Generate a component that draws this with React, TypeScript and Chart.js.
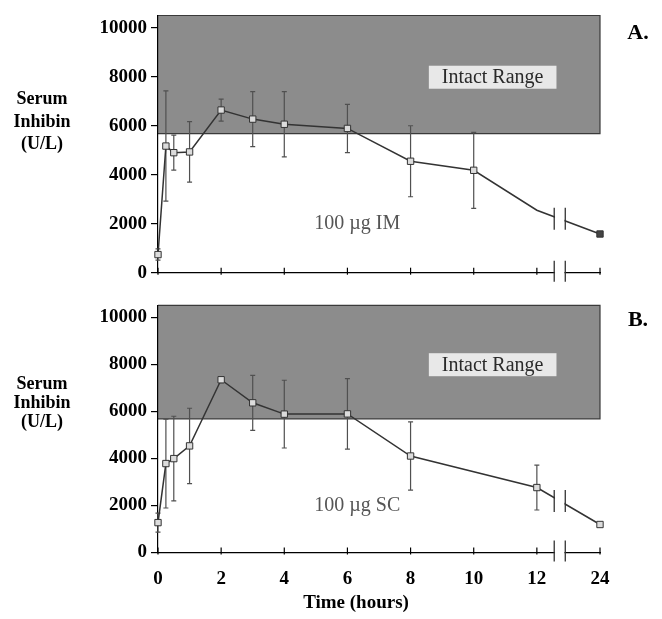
import React, { useEffect, useRef } from "react";
import { Chart, registerables } from "chart.js";
Chart.register(...registerables);

// ---- data (hours, U/L) ----
const timesA = [0, 0.25, 0.5, 1, 2, 3, 4, 6, 8, 10, 12, 24];
const meansA = [740, 5170, 4900, 4930, 6640, 6270, 6060, 5890, 4550, 4180, 2550, 1580];
const errorsA = [230, 2250, 715, 1235, 450, 1125, 1330, 985, 1450, 1550, 0, 0];
const unmarkedTimesA = [12];
const darkMarkerTimesA = [24];

const timesB = [0, 0.25, 0.5, 1, 2, 3, 4, 6, 8, 12, 24];
const meansB = [1270, 3780, 3990, 4530, 7340, 6360, 5880, 5890, 4100, 2760, 1190];
const errorsB = [400, 1890, 1800, 1600, 120, 1170, 1440, 1500, 1450, 955, 0];
const unmarkedTimesB: number[] = [];
const darkMarkerTimesB: number[] = [];

const xTickHours = [0, 2, 4, 6, 8, 10, 12, 24];
const yTickValues = [0, 2000, 4000, 6000, 8000, 10000];
const intactRange = [5680, 10500];
const intactLabel = "Intact Range";
const doseLabelA = "100 µg IM";
const doseLabelB = "100 µg SC";
const yTitleLines = ["Serum", "Inhibin", "(U/L)"];
const xTitle = "Time (hours)";

// broken time axis: hours after the break are drawn at position 14
const AXIS_MAX = 14;
const BREAK_START = 12.55;
const BREAK_END = 12.9;
const toAxis = (h: number) => (h > 12 ? AXIS_MAX : h);

const SERIF = "'Liberation Serif', 'Times New Roman', serif";

const panelPlugin = {
  id: "panel",
  beforeDraw(chart: any, _a: any, o: any) {
    const { ctx } = chart;
    const xs = chart.scales.x;
    const ys = chart.scales.y;
    const l = xs.getPixelForValue(0);
    const r = xs.getPixelForValue(AXIS_MAX);
    const t = ys.getPixelForValue(intactRange[1]);
    const b = ys.getPixelForValue(intactRange[0]);
    ctx.save();
    ctx.fillStyle = "#8c8c8c";
    ctx.fillRect(l, t, r - l, b - t);
    ctx.strokeStyle = "#3a3a3a";
    ctx.lineWidth = 1.2;
    ctx.beginPath();
    ctx.moveTo(l, t);
    ctx.lineTo(r, t);
    ctx.lineTo(r, b);
    ctx.lineTo(l, b);
    ctx.stroke();
    // Intact Range label box
    ctx.font = `20px ${SERIF}`;
    const cx = xs.getPixelForValue(10.6);
    const cy = ys.getPixelForValue(7980);
    const w = ctx.measureText(intactLabel).width + 26;
    ctx.fillStyle = "#e8e8e8";
    ctx.fillRect(cx - w / 2, cy - 11.5, w, 23);
    ctx.fillStyle = "#2a2a2a";
    ctx.textAlign = "center";
    ctx.textBaseline = "middle";
    ctx.fillText(intactLabel, cx, cy + 1);
    // dose label
    ctx.font = `20px ${SERIF}`;
    ctx.fillStyle = "#555";
    ctx.textAlign = "left";
    ctx.fillText(o.dose, xs.getPixelForValue(4.95), ys.getPixelForValue(2000));
    ctx.restore();
  },
  beforeDatasetsDraw(chart: any, _a: any, o: any) {
    const { ctx } = chart;
    const xs = chart.scales.x;
    const ys = chart.scales.y;
    ctx.save();
    ctx.strokeStyle = "#505050";
    ctx.lineWidth = 1.2;
    o.times.forEach((h: number, i: number) => {
      const e = o.errors[i];
      if (!e) return;
      const x = xs.getPixelForValue(toAxis(h));
      const y1 = ys.getPixelForValue(o.means[i] + e);
      const y2 = ys.getPixelForValue(o.means[i] - e);
      ctx.beginPath();
      ctx.moveTo(x, y1);
      ctx.lineTo(x, y2);
      ctx.moveTo(x - 2.5, y1);
      ctx.lineTo(x + 2.5, y1);
      ctx.moveTo(x - 2.5, y2);
      ctx.lineTo(x + 2.5, y2);
      ctx.stroke();
    });
    ctx.restore();
  },
  afterDraw(chart: any, _a: any, o: any) {
    const { ctx } = chart;
    const xs = chart.scales.x;
    const ys = chart.scales.y;
    const axisY = ys.getPixelForValue(0);
    const bx1 = xs.getPixelForValue(BREAK_START);
    const bx2 = xs.getPixelForValue(BREAK_END);
    const bxm = (bx1 + bx2) / 2;
    ctx.save();
    // inward ticks on the time axis
    ctx.strokeStyle = "#000";
    ctx.lineWidth = 1.2;
    xTickHours.forEach((h) => {
      const x = xs.getPixelForValue(toAxis(h));
      ctx.beginPath();
      ctx.moveTo(x, axisY - 5);
      ctx.lineTo(x, axisY + 2);
      ctx.stroke();
    });
    // break on the data line
    const pts = chart.getDatasetMeta(0).data;
    let lineY = null as number | null;
    for (let i = 0; i < pts.length - 1; i++) {
      if (pts[i].x <= bxm && pts[i + 1].x >= bxm) {
        const f = (bxm - pts[i].x) / (pts[i + 1].x - pts[i].x);
        lineY = pts[i].y + f * (pts[i + 1].y - pts[i].y);
      }
    }
    const drawBreak = (cy: number, up: number, down: number, gap: number) => {
      ctx.fillStyle = "#fff";
      ctx.fillRect(bx1 + 0.8, cy - gap, bx2 - bx1 - 1.6, gap * 2);
      ctx.strokeStyle = "#333";
      ctx.lineWidth = 1.3;
      ctx.beginPath();
      ctx.moveTo(bx1, cy - up);
      ctx.lineTo(bx1, cy + down);
      ctx.moveTo(bx2, cy - up);
      ctx.lineTo(bx2, cy + down);
      ctx.stroke();
    };
    if (lineY !== null) drawBreak(lineY, 11, 11, 8);
    drawBreak(axisY, 12, 9, 3);
    // side texts
    ctx.fillStyle = "#000";
    ctx.textAlign = "center";
    ctx.textBaseline = "middle";
    ctx.font = `bold 18px ${SERIF}`;
    yTitleLines.forEach((s, i) => ctx.fillText(s, 42, o.sideYs[i]));
    ctx.font = `bold 22px ${SERIF}`;
    ctx.fillText(o.letter, 638, o.letterY);
    if (o.xTitleY) {
      ctx.font = `bold 19px ${SERIF}`;
      ctx.fillText(xTitle, 356, o.xTitleY);
    }
    ctx.restore();
  },
};

function makeChart(canvas: HTMLCanvasElement, p: any) {
  const font = { family: SERIF, size: 19, weight: "bold" as const };
  const points = p.times.map((h: number, i: number) => ({ x: toAxis(h), y: p.means[i] }));
  return new Chart(canvas, {
    type: "line",
    data: {
      datasets: [
        {
          data: points,
          borderColor: "#333",
          borderWidth: 1.5,
          tension: 0,
          clip: false,
          pointStyle: "rect",
          pointRadius: (c: any) => (p.unmarked.includes(p.times[c.dataIndex]) ? 0 : 4.5),
          pointBackgroundColor: (c: any) => (p.dark.includes(p.times[c.dataIndex]) ? "#444" : "#dcdcdc"),
          pointBorderColor: "#333",
          pointBorderWidth: 1,
        },
      ],
    },
    options: {
      responsive: false,
      animation: false,
      devicePixelRatio: 1,
      layout: { padding: { top: p.padTop, right: 62, left: 0, bottom: 0 } },
      plugins: {
        legend: { display: false },
        tooltip: { enabled: false },
        // @ts-ignore
        panel: {
          times: p.times,
          means: p.means,
          errors: p.errors,
          dose: p.dose,
          letter: p.letter,
          letterY: p.letterY,
          sideYs: p.sideYs,
          xTitleY: p.xTitleY,
        },
      },
      scales: {
        x: {
          type: "linear",
          min: 0,
          max: AXIS_MAX,
          afterBuildTicks: (s: any) => {
            s.ticks = xTickHours.map((h) => ({ value: toAxis(h) }));
          },
          ticks: {
            display: p.showXLabels,
            callback: (_v: any, i: number) => String(xTickHours[i]),
            font,
            color: "#000",
            padding: 15,
            maxRotation: 0,
            autoSkip: false,
          },
          grid: { display: true, drawOnChartArea: false, drawTicks: false },
          border: { display: true, color: "#000", width: 1.2 },
          afterFit: (s: any) => {
            s.height = p.xAxisH;
          },
        },
        y: {
          type: "linear",
          min: 0,
          max: 10500,
          afterBuildTicks: (s: any) => {
            s.ticks = yTickValues.map((v) => ({ value: v }));
          },
          ticks: { callback: (v: any) => String(v), font, color: "#000", padding: 4 },
          grid: { drawOnChartArea: false, drawTicks: true, tickLength: 7, color: "#000", lineWidth: 1.2 },
          border: { display: true, color: "#000", width: 1.2 },
          afterFit: (s: any) => {
            s.width = 158;
          },
        },
      },
    } as any,
    plugins: [panelPlugin as any],
  });
}

export default function App() {
  const refA = useRef<HTMLCanvasElement>(null);
  const refB = useRef<HTMLCanvasElement>(null);
  useEffect(() => {
    const a = makeChart(refA.current!, {
      times: timesA,
      means: meansA,
      errors: errorsA,
      unmarked: unmarkedTimesA,
      dark: darkMarkerTimesA,
      dose: doseLabelA,
      letter: "A.",
      letterY: 33,
      sideYs: [99, 122, 144],
      xTitleY: null,
      padTop: 15.5,
      xAxisH: 290 - 272.7,
      showXLabels: false,
    });
    const b = makeChart(refB.current!, {
      times: timesB,
      means: meansB,
      errors: errorsB,
      unmarked: unmarkedTimesB,
      dark: darkMarkerTimesB,
      dose: doseLabelB,
      letter: "B.",
      letterY: 30,
      sideYs: [94, 113, 132],
      xTitleY: 313,
      padTop: 11.5,
      xAxisH: 329 - 262.5,
      showXLabels: true,
    });
    return () => {
      a.destroy();
      b.destroy();
    };
  }, []);
  return (
    <div style={{ position: "absolute", left: 0, top: 0, width: 662, height: 619, background: "#fff" }}>
      <canvas ref={refA} width={662} height={290} style={{ position: "absolute", left: 0, top: 0, display: "block" }} />
      <canvas ref={refB} width={662} height={329} style={{ position: "absolute", left: 0, top: 290, display: "block" }} />
    </div>
  );
}
